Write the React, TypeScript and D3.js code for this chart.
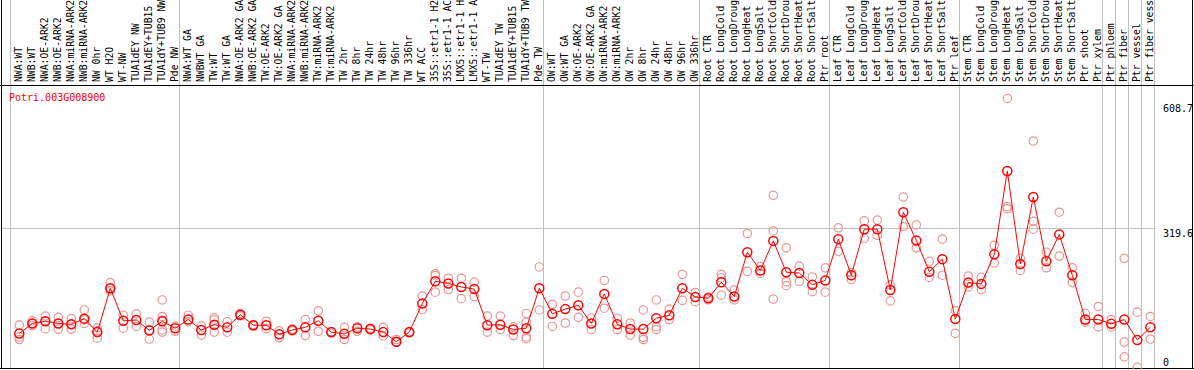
import React, { useEffect, useRef } from 'react';
import * as d3 from 'd3';

const W = 1194;
const H = 370;
const geneId = 'Potri.003G008900';

const labels: string[] = [
  'NWA:WT', 'NWB:WT', 'NWA:OE-ARK2', 'NWB:OE-ARK2', 'NWA:miRNA-ARK2', 'NWB:miRNA-ARK2', 'NW 0hr', 'WT H2O', 'WT-NW',
  'TUA1dEY NW', 'TUA1dEY+TUB15', 'TUA1dY+TUB9 NW', 'Pde NW',
  'NWA:WT GA', 'NWBWT GA', 'TW:WT', 'TW:WT GA', 'NWA:OE-ARK2 GA', 'NWB:OE-ARK2 GA', 'TW:OE-ARK2', 'TW:OE-ARK2 GA',
  'NWA:miRNA-ARK2', 'NWB:miRNA-ARK2', 'TW:miRNA-ARK2', 'TW:miRNA-ARK2', 'TW 2hr', 'TW 8hr', 'TW 24hr', 'TW 48hr',
  'TW 96hr', 'TW 336hr', 'WT ACC', '35S::etr1-1 H2', '35S::etr1-1 AC', 'LMX5::etr1-1 H', 'LMX5::etr1-1 A', 'WT-TW',
  'TUA1dEY TW', 'TUA1dEY+TUB15', 'TUA1dY+TUB9 TW', 'Pde TW',
  'OW:WT', 'OW:WT GA', 'OW:OE-ARK2', 'OW:OE-ARK2 GA', 'OW:miRNA-ARK2', 'OW:miRNA-ARK2', 'OW 2hr', 'OW 8hr', 'OW 24hr',
  'OW 48hr', 'OW 96hr', 'OW 336hr',
  'Root CTR', 'Root LongCold', 'Root LongDroug', 'Root LongHeat', 'Root LongSalt', 'Root ShortCold', 'Root ShortDrou',
  'Root ShortHeat', 'Root ShortSalt', 'Ptr root',
  'Leaf CTR', 'Leaf LongCold', 'Leaf LongDroug', 'Leaf LongHeat', 'Leaf LongSalt', 'Leaf ShortCold', 'Leaf ShortDrou',
  'Leaf ShortHeat', 'Leaf ShortSalt', 'Ptr leaf',
  'Stem CTR', 'Stem LongCold', 'Stem LongDroug', 'Stem LongHeat', 'Stem LongSalt', 'Stem ShortCold', 'Stem ShortDrou',
  'Stem ShortHeat', 'Stem ShortSalt', 'Ptr shoot', 'Ptr xylem',
  'Ptr phloem', 'Ptr fiber', 'Ptr vessel', 'Ptr fiber vess',
];

const means: number[] = [
  78, 101, 106, 101, 99, 112, 81, 182, 107, 109, 85, 106, 90,
  110, 86, 98, 92, 121, 97, 97, 76, 86, 92, 107, 81, 77, 90, 88, 81, 59, 81,
  147, 198, 193, 185, 180, 97, 98, 87, 90, 182,
  123, 134, 143, 101, 169, 99, 88, 88, 113, 120, 182, 162,
  159, 196, 163, 265, 223, 291, 219, 217, 190, 200,
  295, 212, 318, 318, 178, 357, 292, 220, 249, 111,
  195, 192, 260, 452, 238, 392, 244, 306, 212, 110, 110,
  100, 110, 63, 92,
];

const reps: number[][] = [
  [97, 70, 64], [107, 101, 96], [118, 106, 89], [115, 101, 88], [112, 99, 88], [132, 101, 109], [91, 67, 84],
  [195, 176, 182], [120, 90], [123, 94], [104, 65, 86], [155, 117, 109, 86, 81], [95, 83],
  [120, 105], [95, 74], [114, 109, 81], [105, 81], [124, 121, 118], [95, 97, 98], [106, 89], [84, 68],
  [84, 88], [110, 73], [130, 83], [79, 82], [92, 64], [93, 83], [86, 90], [92, 72], [64, 58], [79, 82],
  [164, 133], [215, 211, 173], [205, 179], [205, 158], [196, 163], [118, 81], [118, 87], [93, 73],
  [124, 104, 70, 66], [231, 132],
  [145, 94], [164, 102], [173, 115], [113, 87], [200, 136], [113, 87], [102, 74], [132, 69, 64],
  [155, 93, 87], [134, 110], [214, 154], [172, 151],
  [155, 162], [214, 206, 166], [178, 155], [308, 221], [232, 216], [396, 314, 157], [275, 197, 188],
  [233, 198], [208, 174], [229, 173],
  [321, 267], [218, 202], [337, 297], [339, 304], [190, 153], [392, 324], [328, 275], [244, 207],
  [295, 212], [130, 78],
  [210, 185], [207, 179], [281, 240], [619, 370, 365], [251, 223], [521, 336, 318], [265, 229],
  [357, 256], [229, 195], [124, 104], [140, 93],
  [110, 93], [251, 58, 24], [127, 0], [117, 65],
];

const groupBreaks: number[] = [0, 13, 41, 53, 63, 73, 84, 85, 86, 87, 88];
const yTicks: number[] = [0, 319.6, 608.7];
const gridValues: number[] = [319.6];

const FONT = '"DejaVu Sans Mono", "Liberation Mono", monospace';

export default function App() {
  const ref = useRef<SVGSVGElement>(null);

  useEffect(() => {
    const svg = d3.select(ref.current);
    svg.selectAll('*').remove();

    const idx = d3.range(labels.length);
    const x = d3.scaleBand<number>().domain(idx).range([11.3, 11.3 + labels.length * 13]);
    const y = d3.scaleLinear().domain([0, 608.7]).range([367.3, 102.9]);
    const cx = (i: number) => (x(i) as number) + 8;
    const bx = (k: number) => 11.3 + k * x.step();

    svg.append('rect').attr('width', W).attr('height', H).attr('fill', '#fff');

    // horizontal grid
    svg.selectAll('line.hgrid').data(gridValues).enter().append('line')
      .attr('x1', 1).attr('x2', bx(labels.length))
      .attr('y1', d => Math.round(y(d)) + 0.5).attr('y2', d => Math.round(y(d)) + 0.5)
      .attr('stroke', '#c0c0c0').attr('stroke-width', 1);

    // vertical group separators
    svg.selectAll('line.vsep').data(groupBreaks).enter().append('line')
      .attr('x1', d => Math.round(bx(d)) - 0.5).attr('x2', d => Math.round(bx(d)) - 0.5)
      .attr('y1', 0).attr('y2', 369)
      .attr('stroke', '#c0c0c0').attr('stroke-width', 1);

    // frame
    const frame = svg.append('g').attr('stroke', '#000').attr('stroke-width', 1);
    frame.append('line').attr('x1', 0).attr('x2', W).attr('y1', 85.5).attr('y2', 85.5);
    frame.append('line').attr('x1', 0).attr('x2', W).attr('y1', 368.5).attr('y2', 368.5);
    frame.append('line').attr('x1', 1.5).attr('x2', 1.5).attr('y1', 0).attr('y2', 369);
    frame.append('line').attr('x1', 1192.5).attr('x2', 1192.5).attr('y1', 0).attr('y2', 369);

    // sample labels (rotated)
    svg.append('g').selectAll('text').data(labels).enter().append('text')
      .attr('transform', (_d, i) => `translate(${cx(i) + 2.5},82) rotate(-90)`)
      .attr('font-family', FONT).attr('font-size', 9.75).attr('fill', '#000')
      .text(d => d);

    // gene id
    svg.append('text').attr('x', 9).attr('y', 101)
      .attr('font-family', FONT).attr('font-size', 10).attr('fill', '#ff0000')
      .text(geneId);

    // right axis labels
    svg.append('g').selectAll('text').data(yTicks).enter().append('text')
      .attr('x', 1163)
      .attr('y', d => Math.min(y(d) + 9, 366))
      .attr('font-family', FONT).attr('font-size', 10).attr('fill', '#000')
      .text(d => String(d));

    // replicate points
    const repPts = reps.flatMap((arr, i) => arr.map(v => ({ i, v })));
    svg.append('g').selectAll('circle').data(repPts).enter().append('circle')
      .attr('cx', d => cx(d.i)).attr('cy', d => y(d.v)).attr('r', 4.2)
      .attr('fill', 'none').attr('stroke', '#ec9595').attr('stroke-width', 1.2);

    // mean line
    const line = d3.line<number>().x((_d, i) => cx(i)).y(d => y(d));
    svg.append('path').datum(means).attr('d', line)
      .attr('fill', 'none').attr('stroke', '#ff0000').attr('stroke-width', 1);

    // mean markers
    svg.append('g').selectAll('circle').data(means).enter().append('circle')
      .attr('cx', (_d, i) => cx(i)).attr('cy', d => y(d)).attr('r', 4.5)
      .attr('fill', 'none').attr('stroke', '#ff0000').attr('stroke-width', 1.5);
  }, []);

  return (
    <svg
      ref={ref}
      width={W}
      height={H}
      style={{ position: 'absolute', left: 0, top: 0, display: 'block' }}
    />
  );
}
